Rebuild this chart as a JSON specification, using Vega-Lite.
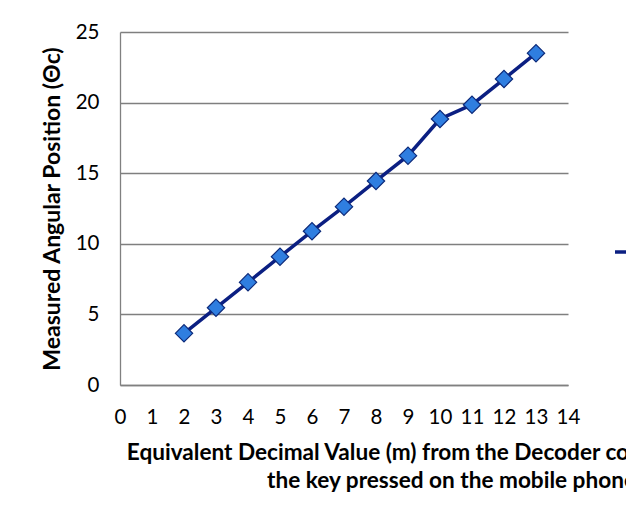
{
  "$schema": "https://vega.github.io/schema/vega-lite/v6.json",
  "width": 448,
  "height": 353,
  "autosize": {"type": "none"},
  "padding": {"left": 120, "top": 32, "right": 58, "bottom": 136},
  "background": "white",
  "config": {
    "font": "Lato",
    "view": {"stroke": null},
    "axis": {"labelFont": "Lato", "titleFont": "Lato", "labelColor": "#000000", "titleColor": "#000000", "domainColor": "#808080", "domainWidth": 1.3, "ticks": false}
  },
  "data": {
    "values": [
      {"m": 2, "theta": 3.66, "series": "Series1"},
      {"m": 3, "theta": 5.47, "series": "Series1"},
      {"m": 4, "theta": 7.27, "series": "Series1"},
      {"m": 5, "theta": 9.09, "series": "Series1"},
      {"m": 6, "theta": 10.89, "series": "Series1"},
      {"m": 7, "theta": 12.63, "series": "Series1"},
      {"m": 8, "theta": 14.45, "series": "Series1"},
      {"m": 9, "theta": 16.24, "series": "Series1"},
      {"m": 10, "theta": 18.84, "series": "Series1"},
      {"m": 11, "theta": 19.85, "series": "Series1"},
      {"m": 12, "theta": 21.67, "series": "Series1"},
      {"m": 13, "theta": 23.5, "series": "Series1"}
    ]
  },
  "encoding": {
    "x": {
      "field": "m", "type": "quantitative",
      "scale": {"domain": [0, 14], "nice": false, "zero": false},
      "axis": {
        "values": [0,1,2,3,4,5,6,7,8,9,10,11,12,13,14],
        "grid": false,
        "labelFontSize": 20.5,
        "labelPadding": 22,
        "labelFlush": false,
        "labelOverlap": false,
        "title": ["Equivalent Decimal Value (m) from the Decoder corresponding to", "the key pressed on the mobile phone"],
        "titleFontSize": 22.6,
        "titleFontWeight": "bold",
        "titleLineHeight": 28.5,
        "titleX": 331,
        "titleY": 56,
        "titleAlign": "center",
        "titleBaseline": "top",
        "titleAnchor": null
      }
    },
    "y": {
      "field": "theta", "type": "quantitative",
      "scale": {"domain": [0, 25], "nice": false},
      "axis": {
        "values": [0,5,10,15,20,25],
        "grid": true,
        "gridColor": "#7f7f7f",
        "gridWidth": 1.3,
        "labelFontSize": 20.5,
        "labelPadding": 21,
        "title": "Measured Angular Position (Θc)",
        "titleFontSize": 23,
        "titleFontWeight": "bold",
        "titleAngle": -90,
        "titleX": -68,
        "titleY": 176.5,
        "titleAlign": "center",
        "titleBaseline": "middle"
      }
    }
  },
  "layer": [
    {
      "mark": {"type": "line", "strokeWidth": 3.5},
      "encoding": {
        "color": {
          "field": "series", "type": "nominal",
          "scale": {"range": ["#0b1f82"]},
          "legend": {
            "orient": "none",
            "legendX": 493,
            "legendY": 203,
            "title": null,
            "symbolType": "stroke",
            "symbolSize": 900,
            "symbolStrokeWidth": 3.5,
            "labelFontSize": 20,
            "padding": 0
          }
        }
      }
    },
    {
      "mark": {"type": "point", "shape": "diamond", "filled": true, "size": 300, "fill": "#2f7ee0", "stroke": "#0d2a7a", "strokeWidth": 1.2, "opacity": 1}
    }
  ]
}
